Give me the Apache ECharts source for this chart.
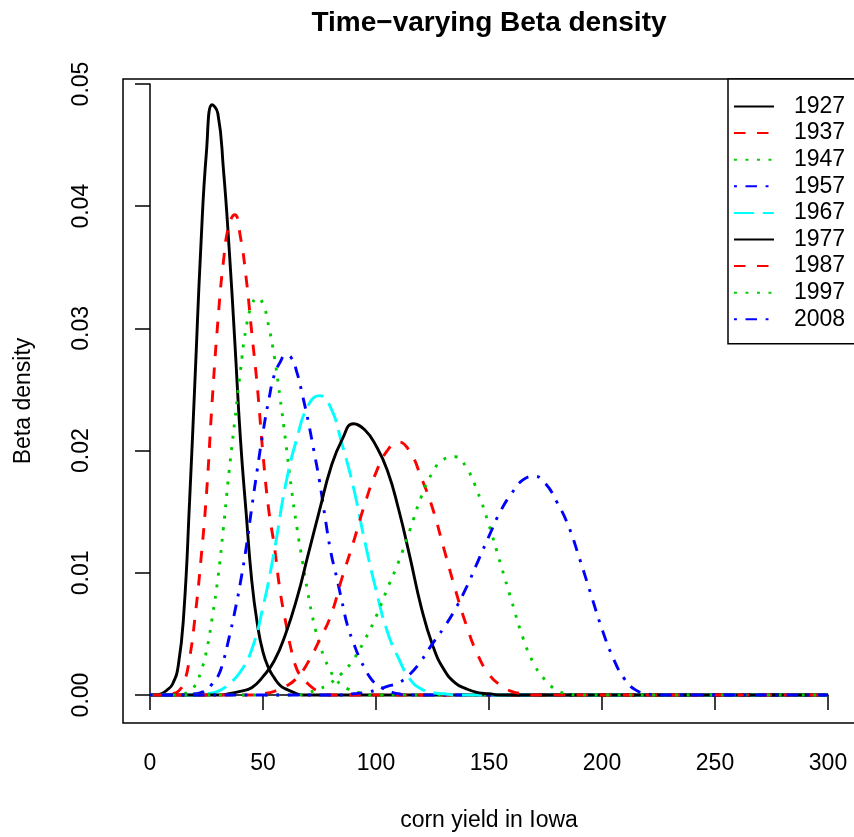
<!DOCTYPE html>
<html>
<head>
<meta charset="utf-8">
<title>Time-varying Beta density</title>
<script src="https://cdn.jsdelivr.net/npm/echarts@6/dist/echarts.min.js"></script>
<style>
  html, body { margin: 0; padding: 0; background: #fff; }
  #chart { width: 854px; height: 837px; }
</style>
</head>
<body>
<div id="chart"></div>
<script>
// years shown in the legend, one curve each
const years = ["1927", "1937", "1947", "1957", "1967", "1977", "1987", "1997", "2008"];
const lineColors = ["#000000", "#FF0000", "#00CD00", "#0000FF", "#00FFFF",
                    "#000000", "#FF0000", "#00CD00", "#0000FF"];

// first x and spacing of the points
const firstX = [0, 7.5, 12.5, 17.5, 20, 30, 45, 65, 85];
const stepX  = [2.5, 2.5, 2.5, 2.5, 5, 5, 5, 5, 5];

// density values
const dens1927 = [0, 0, 0.0001, 0.0004, 0.0009, 0.0024, 0.0068, 0.0158, 0.0262, 0.0367,
  0.0445, 0.0483, 0.0476, 0.0430, 0.0366, 0.0290, 0.0210, 0.0150, 0.0094, 0.0058,
  0.0035, 0.0022, 0.0014, 0.0008, 0.0005, 0.0003, 0.0001, 0];
const dens1937 = [0, 0.0001, 0.0003, 0.0010, 0.0030, 0.0065, 0.0110, 0.0165, 0.0240, 0.0305,
  0.0355, 0.0385, 0.0393, 0.0375, 0.0342, 0.0297, 0.0252, 0.0197, 0.0152, 0.0122,
  0.0086, 0.0060, 0.0037, 0.0021, 0.0014, 0.0009, 0.0005, 0.0003, 0.0001, 0];
const dens1947 = [0, 0.0001, 0.0003, 0.0008, 0.0019, 0.0036, 0.0063, 0.0095, 0.0137, 0.0183,
  0.0224, 0.0265, 0.0300, 0.0319, 0.0325, 0.0320, 0.0302, 0.0277, 0.0244, 0.0208,
  0.0170, 0.0137, 0.0109, 0.0082, 0.0059, 0.0042, 0.0029, 0.0019, 0.0012, 0.0008,
  0.0005, 0.0003, 0.0002, 0.0001, 0];
const dens1957 = [0, 0.0001, 0.0002, 0.0004, 0.0009, 0.0015, 0.0028, 0.0047, 0.0068, 0.0092,
  0.0120, 0.0153, 0.0185, 0.0215, 0.0241, 0.0262, 0.0272, 0.0278, 0.0276, 0.0264,
  0.0245, 0.0224, 0.0200, 0.0175, 0.0145, 0.0117, 0.0097, 0.0076, 0.0056, 0.0043,
  0.0031, 0.0022, 0.0014, 0.0009, 0.0006, 0.0004, 0.0002, 0.0001, 0];
const dens1967 = [0, 0.0001, 0.0003, 0.0009, 0.0019, 0.0037, 0.0072, 0.0118, 0.0172, 0.0210,
  0.0237, 0.0245, 0.0235, 0.0205, 0.0170, 0.0126, 0.0086, 0.0052, 0.0030, 0.0013,
  0.0005, 0.0002, 0.0001, 0];
const dens1977 = [0, 0.0001, 0.0003, 0.0006, 0.0015, 0.0028, 0.0050, 0.0079, 0.0115, 0.0151,
  0.0186, 0.0209, 0.0222, 0.0217, 0.0204, 0.0184, 0.0152, 0.0113, 0.0072, 0.0041,
  0.0021, 0.0010, 0.0005, 0.0002, 0.0001, 0];
const dens1987 = [0, 0.0001, 0.0003, 0.0007, 0.0014, 0.0027, 0.0045, 0.0065, 0.0096, 0.0125,
  0.0156, 0.0182, 0.0200, 0.0207, 0.0199, 0.0178, 0.0153, 0.0120, 0.0087, 0.0057,
  0.0033, 0.0017, 0.0008, 0.0003, 0.0001, 0];
const dens1997 = [0, 0.0002, 0.0005, 0.0010, 0.0018, 0.0029, 0.0045, 0.0064, 0.0087, 0.0109,
  0.0135, 0.0162, 0.0182, 0.0193, 0.0195, 0.0186, 0.0166, 0.0139, 0.0108, 0.0077,
  0.0047, 0.0025, 0.0012, 0.0004, 0.0001, 0];
const dens2008 = [0, 0.0001, 0.0002, 0.0004, 0.0007, 0.0010, 0.0017, 0.0028, 0.0042, 0.0055,
  0.0070, 0.0088, 0.0109, 0.0130, 0.0150, 0.0165, 0.0176, 0.0179, 0.0173, 0.0158,
  0.0139, 0.0112, 0.0083, 0.0054, 0.0030, 0.0013, 0.0004, 0.0001, 0];
const densities = [dens1927, dens1937, dens1947, dens1957, dens1967,
                   dens1977, dens1987, dens1997, dens2008];

const xRange = [0, 300];

// R line types 1..5, recycled
const lw = 2.9;
const ltys = ["solid", [11.5, 11.5], [2.9, 8.6], [2.9, 8.6, 11.5, 8.6], [20.2, 8.6]];

const font = "Liberation Sans, Arial, Helvetica, sans-serif";

function curve(k) {
  const pts = [];
  if (firstX[k] > xRange[0]) pts.push([xRange[0], 0]);
  densities[k].forEach(function (v, i) {
    pts.push([firstX[k] + i * stepX[k], v]);
  });
  pts.push([xRange[1], 0]);
  return pts;
}

const series = years.map(function (y, k) {
  return {
    name: y,
    type: "line",
    data: curve(k),
    symbol: "none",
    smooth: 0.5,
    clip: false,
    lineStyle: {
      color: lineColors[k],
      width: lw,
      type: ltys[k % 5],
      cap: "butt"
    },
    itemStyle: { color: lineColors[k] }
  };
});

const chart = echarts.init(document.getElementById("chart"));
chart.setOption({
  animation: false,
  backgroundColor: "#fff",
  textStyle: { fontFamily: font },
  grid: { left: 150, top: 84, width: 678, height: 615 },
  xAxis: {
    type: "value",
    min: xRange[0],
    max: xRange[1],
    interval: 50,
    offset: 24,
    name: "corn yield in Iowa",
    nameLocation: "middle",
    nameGap: 90,
    nameTextStyle: { fontSize: 23, color: "#000", fontFamily: font },
    axisLine: { show: true, lineStyle: { color: "#000", width: 1.5 } },
    axisTick: { show: true, length: 15, lineStyle: { color: "#000", width: 1.5 } },
    axisLabel: { margin: 33, fontSize: 23, color: "#000", fontFamily: font },
    splitLine: { show: false }
  },
  yAxis: {
    type: "value",
    min: 0,
    max: 0.05,
    interval: 0.01,
    offset: 27,
    axisLine: { show: true, lineStyle: { color: "#000", width: 1.5 } },
    axisTick: { show: true, length: 15, lineStyle: { color: "#000", width: 1.5 } },
    axisLabel: {
      rotate: 90,
      margin: 30,
      fontSize: 23,
      color: "#000",
      fontFamily: font,
      formatter: function (v) { return v.toFixed(2); }
    },
    splitLine: { show: false }
  },
  legend: {
    data: years,
    orient: "vertical",
    left: 728,
    top: 79,
    itemWidth: 40,
    itemHeight: 20,
    itemGap: 3.6,
    padding: [16, 40, 13, 5],
    backgroundColor: "#fff",
    borderColor: "#000",
    borderWidth: 1.5,
    selectedMode: false,
    itemStyle: { opacity: 0 },
    textStyle: { fontSize: 23, color: "#000", fontFamily: font, padding: [0, 0, 0, 15] }
  },
  graphic: [
    {
      type: "rect",
      z: -1,
      shape: { x: 123, y: 79, width: 732, height: 644 },
      style: { fill: "none", stroke: "#000", lineWidth: 1.5 }
    },
    {
      type: "text",
      x: 489,
      y: 23,
      style: {
        text: "Time\u2212varying Beta density",
        font: "bold 28px " + font,
        fill: "#000",
        align: "center",
        verticalAlign: "middle"
      }
    },
    {
      type: "text",
      x: 24,
      y: 401,
      rotation: Math.PI / 2,
      style: {
        text: "Beta density",
        font: "23px " + font,
        fill: "#000",
        align: "center",
        verticalAlign: "middle"
      }
    }
  ],
  series: series
});
</script>
</body>
</html>
